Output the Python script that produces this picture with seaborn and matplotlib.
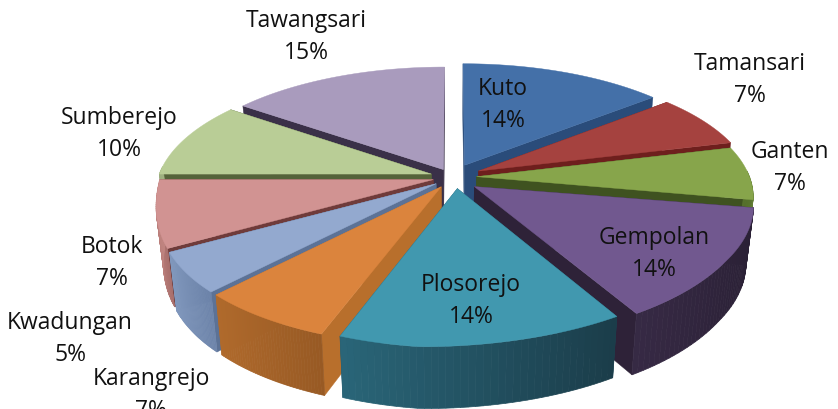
import numpy as np
import matplotlib
matplotlib.use('Agg')
import matplotlib.pyplot as plt
from matplotlib.patches import Polygon
import seaborn as sns

names = ['Kuto', 'Tamansari', 'Ganten', 'Gempolan', 'Plosorejo',
         'Karangrejo', 'Kwadungan', 'Botok', 'Sumberejo', 'Tawangsari']
values = [14, 7, 7, 14, 14, 7, 5, 7, 10, 15]
explode = [0.11, 0.11, 0.09, 0.10, 0.07, 0.07, 0.07, 0.07, 0.08, 0.07]
nudge = [0, 0, 0, 0, 0.015, 0, 0, 0, 0, 0]

top_colors = ['#4470a8', '#a5423f', '#87a54b', '#71588f', '#4198af',
              '#db843d', '#93a9cf', '#d19392', '#b9cd96', '#a99bbd']
edge_colors = ['#2a4c7a', '#6e1f1d', '#3f5220', '#2e2238', '#1f4f60',
               '#b86f2c', '#5c7296', '#6f3b3a', '#55633a', '#3a3048']
wall_left = ['#3a6090', '#8a3533', '#6f8a3c', '#372a45', '#2a6679',
             '#b06a2c', '#8198bd', '#c08480', '#a0b282', '#8f82a5']
wall_right = ['#2a4c7a', '#6e2725', '#56702c', '#2a2035', '#1b3d4a',
              '#985a24', '#6d84aa', '#a96f6c', '#8a9c6c', '#786c8e']

# label centres, in pixels
label_x = [503, 750, 790, 654, 471, 151, 70, 112, 119, 306]
label_y = [105, 80, 168, 254, 301, 395, 339, 263, 134, 37]

CX, CY = 452, 178
RX, RY = 273, 120
PERSP = 0.15
DEPTH = 56


def project(u, v, low=False):
    s = 1 / (1 + PERSP * v)
    x = u * RX * s
    y = -v * RY * s
    # the front of the pie is not a plain ellipse in the picture
    if v < 0:
        y += 18 * (1 - (1 + max(v, -1)) ** 3) * np.clip(0.9 - u, 0, 1)
        if u > 0:
            x *= 1 + 0.04 * (-v) ** 3
    if low:
        x = x * 0.975
        y = y * 0.985 + DEPTH * (1 - 0.14 * v)
    return CX + x, CY + y


sns.set_theme(style='white')
plt.rcParams['font.family'] = ['Open Sans', 'DejaVu Sans']
palette = sns.color_palette(top_colors)

fig, ax = plt.subplots(figsize=(8.38, 4.10), dpi=100)
fig.subplots_adjust(0, 0, 1, 1)
ax.set_xlim(0, 838)
ax.set_ylim(410, 0)
ax.axis('off')

shares = np.array(values) / sum(values) * 2 * np.pi
ends = np.cumsum(shares)
starts = ends - shares
mids = (starts + ends) / 2

for i in sorted(range(len(values)), key=lambda k: -np.cos(mids[k])):
    dx = explode[i] * np.sin(mids[i]) + nudge[i]
    dy = explode[i] * np.cos(mids[i])
    t = np.linspace(starts[i], ends[i], 40)
    u = np.sin(t) + dx
    v = np.cos(t) + dy

    # radial walls
    for uu, vv in [(u[0], v[0]), (u[-1], v[-1])]:
        quad = [project(dx, dy), project(uu, vv), project(uu, vv, True), project(dx, dy, True)]
        ax.add_patch(Polygon(quad, color=edge_colors[i], lw=0.3))

    # outer wall, in strips so the shade can change along it
    c0 = np.array(matplotlib.colors.to_rgb(wall_left[i]))
    c1 = np.array(matplotlib.colors.to_rgb(wall_right[i]))
    for j in range(len(t) - 1):
        if np.cos(t[j]) > 0.05:
            continue
        quad = [project(u[j], v[j]), project(u[j + 1], v[j + 1]),
                project(u[j + 1], v[j + 1], True), project(u[j], v[j], True)]
        frac = (u[j] - u.min()) / max(0.01, u.max() - u.min())
        col = c0 + (c1 - c0) * frac
        ax.add_patch(Polygon(quad, color=col, lw=0.5))

    # top face
    pts = [project(dx, dy)] + [project(a, b) for a, b in zip(u, v)]
    ax.add_patch(Polygon(pts, color=palette[i], lw=0.3))

for i, name in enumerate(names):
    ax.text(label_x[i], label_y[i], f'{name}\n{values[i]}%', ha='center', va='center',
            fontsize=16.5, color='#111111', linespacing=1.42)

fig.savefig('out.png', dpi=100)
